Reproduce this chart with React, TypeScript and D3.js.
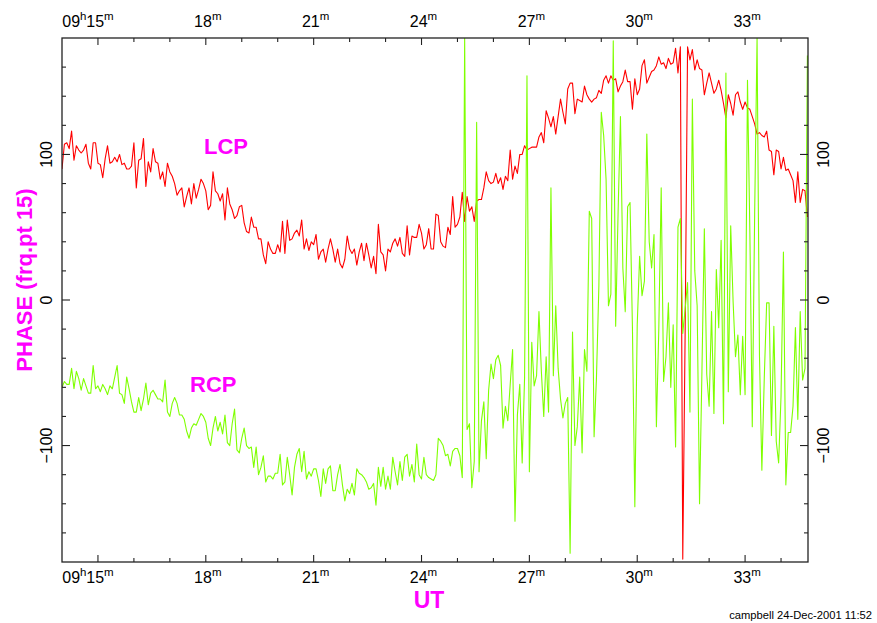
import * as d3 from "d3";
import { useEffect } from "react";

const W = 877;
const H = 623;
const margin = { top: 38, right: 69, bottom: 64, left: 62 };

// time axis: minutes past 09h, one sample every 4 s starting 09h14m00s
const startMin = 14;
const endMin = 34.75;
const sampleSec = 4;
const majorMinutes = [15, 18, 21, 24, 27, 30, 33];
const minorMinutes = [16, 17, 19, 20, 22, 23, 25, 26, 28, 29, 31, 32, 34];
const yMajor = [-100, 0, 100];
const yMinor = [-160, -140, -120, -80, -60, -40, -20, 20, 40, 60, 80, 120, 140, 160];

// LCP phase (deg)
const lcp = [
	90, 107, 108, 104, 116, 96, 106, 103, 101, 103,
	107, 94, 90, 108, 108, 94, 93, 84, 97, 106,
	94, 95, 98, 95, 100, 93, 94, 90, 90, 92,
	108, 77, 96, 97, 111, 78, 95, 88, 104, 95,
	94, 83, 88, 78, 94, 88, 85, 80, 72, 75,
	77, 64, 71, 77, 66, 80, 70, 76, 83, 80,
	75, 62, 65, 88, 75, 73, 68, 73, 55, 77,
	66, 62, 56, 58, 64, 65, 53, 47, 46, 57,
	50, 50, 42, 42, 31, 25, 40, 35, 32,
	32, 38, 33, 54, 32, 55, 41, 42, 46, 48,
	44, 55, 35, 42, 34, 40, 38, 45, 28, 33,
	35, 26, 35, 42, 35, 26, 35, 25, 22, 28,
	44, 35, 32, 35, 24, 33, 39, 27, 39, 31,
	22, 30, 18, 52, 33, 31, 20, 35, 33, 39,
	42, 37, 43, 32, 30, 51, 31, 44, 43, 43,
	52, 46, 35, 38, 49, 35, 35, 59, 58, 40,
	37,
	36, 50, 45, 71, 50, 52, 57, 74, 54,
	71, 61, 64, 54, 68, 69, 69, 77, 88, 82,
	80, 81, 87, 80, 84, 76, 85, 82, 103, 83,
	92, 87, 100, 100, 106, 103, 104, 105, 105, 105,
	112, 115, 108, 130, 125, 119, 126, 114, 126, 138,
	129, 121, 145, 149, 149, 128, 138, 137, 136, 147,
	141, 138, 136, 138, 139, 144, 142, 151, 154, 149,
	154, 151, 152, 143, 147, 150, 158, 150, 150, 131,
	152, 141, 145, 161, 165, 149, 153, 157, 158,
	161, 167, 162, 163, 159, 166, 162, 163, 173, 156,
	174, -178, -21,
	174, 165, 172, 158, 165, 159,
	158, 141, 149, 156, 149, 142, 145, 151, 144, 135,
	125, 141, 135, 127, 141, 143, 136, 131, 136,
	132, 131, 126, 121, 114, 115, 113, 112, 116,
	103, 102, 86, 103, 102, 90, 98, 89, 90, 86,
	82, 67, 88, 67, 76, 75, 57
];

// RCP phase (deg)
const rcp = [
	-60, -56, -58, -58, -47, -61, -49, -54, -62, -54,
	-59, -64, -64, -45, -61, -59, -63, -58, -61, -65,
	-59, -61, -53, -45, -64, -65, -71, -53, -61, -70,
	-77, -77, -67, -76, -68, -57, -72, -64, -62, -65,
	-68, -68, -70, -55, -77, -80, -71, -67, -71, -79,
	-79, -82, -90, -95, -88, -85, -86, -82, -78, -80,
	-84, -95, -100, -88, -80, -90, -84, -92, -79, -98,
	-100, -85, -75, -103, -105, -95, -88, -100, -102,
	-101, -115, -101, -120, -115, -107, -125, -121, -121, -123,
	-119, -119, -106, -127, -125, -108, -120, -134, -115, -106,
	-102, -118, -104, -123, -118, -121, -116, -116, -124, -135,
	-116, -126, -116, -114, -131, -131, -120, -113, -127, -138,
	-130, -133, -126, -134, -116, -119, -120, -122, -125, -130,
	-129, -126, -141, -115, -128, -115, -130, -121, -130, -108,
	-118, -127, -111, -124, -108, -106, -121, -113, -125, -99,
	-120, -123, -108, -120, -122, -123, -124, -120, -95, -97,
	-100, -107,
	-106, -114, -104, -102, -102, -107, -122, 180, -89, -85,
	-129, -111, 122, -118, -83, -70, -109, -62, -44, -54,
	-41, -38, -45, -88, -73, -83, -58, -34, -152, -79,
	-58, -112, -53, 154, -118, -29, -59, -52, -8, -49,
	-80, -39, -77, 77, -52, -4, -47, -68, -81, -71,
	-67, -174, -22, -100, -87, -53, -105, -34, -49, 61,
	56, -94, -53, 10, 129, 113, 83, -4, 4, 178,
	-18, 59, 126, 22, -8, 64, 67,
	-19, -142, -17, 30, 3, 13, 114, 40, 22, 45,
	-87, -20, 77, -56, -39, -2, -60, -17, -101, 50, 56,
	-23, -6, 12, -77, 138, 20, -4, -140, -49, 49,
	-51, -73, -8, -78, 21, -19, 41, -85, 156, -63,
	51, -1, -39, -24, -65, -25, -65, 151, 46, -87, 60,
	180, -38, -117, -54, -2, -2, -93, -18, -97, -112,
	-66, 33, -127, -91, -91, -73, -19, -82, -8, -55,
	-47, 168
];

const font = "'Liberation Sans', Arial, Helvetica, sans-serif";
const axisColor = "#222";

const App = () => {
	useEffect(() => {
		document.body.style.margin = "0";
	}, []);

	const x0 = margin.left;
	const x1 = W - margin.right;
	const y0 = margin.top;
	const y1 = H - margin.bottom + 3;

	const x = d3.scaleLinear().domain([startMin, endMin]).range([x0, x1]);
	const y = d3.scaleLinear().domain([-180, 180]).range([y1, y0]);

	const line = d3
		.line<number>()
		.x((d, i) => x(startMin + (i * sampleSec) / 60))
		.y(d => y(d));

	const minuteLabel = (m: number, yy: number) => {
		const tx = x(m);
		return (
			<g key={`${m}-${yy}`}>
				{m === 15 && (
					<text x={tx - 11.5} y={yy} textAnchor="end" fontSize={16}>
						09<tspan dy={-7} fontSize={11.5}>h</tspan>
					</text>
				)}
				<text x={tx + 2} y={yy} textAnchor="middle" fontSize={16}>
					{m}
					<tspan dy={-7} fontSize={11.5}>m</tspan>
				</text>
			</g>
		);
	};

	const fmtY = (v: number) => (v < 0 ? "\u2212" + Math.abs(v) : String(v));

	return (
		<svg
			width={W}
			height={H}
			style={{ position: "absolute", left: 0, top: 0, background: "#fff" }}
			fontFamily={font}
		>
			<defs>
				<clipPath id="plot">
					<rect x={x0} y={y0} width={x1 - x0} height={y1 - y0} />
				</clipPath>
			</defs>

			<g clipPath="url(#plot)" fill="none" strokeWidth={1.1} strokeLinejoin="round">
				<path d={line(lcp) || ""} stroke="#ff0000" />
				<path d={line(rcp) || ""} stroke="#7fff00" />
			</g>

			{/* frame */}
			<rect x={x0} y={y0} width={x1 - x0} height={y1 - y0} fill="none" stroke={axisColor} strokeWidth={1.3} />

			{/* ticks on all four sides */}
			<g stroke={axisColor} strokeWidth={1.1}>
				{majorMinutes.map(m => (
					<g key={`M${m}`}>
						<line x1={x(m)} x2={x(m)} y1={y1} y2={y1 - 7} />
						<line x1={x(m)} x2={x(m)} y1={y0} y2={y0 + 7} />
					</g>
				))}
				{minorMinutes.map(m => (
					<g key={`m${m}`}>
						<line x1={x(m)} x2={x(m)} y1={y1} y2={y1 - 4} />
						<line x1={x(m)} x2={x(m)} y1={y0} y2={y0 + 4} />
					</g>
				))}
				{yMajor.map(v => (
					<g key={`Y${v}`}>
						<line x1={x0} x2={x0 + 8} y1={y(v)} y2={y(v)} />
						<line x1={x1} x2={x1 - 8} y1={y(v)} y2={y(v)} />
					</g>
				))}
				{yMinor.map(v => (
					<g key={`y${v}`}>
						<line x1={x0} x2={x0 + 4} y1={y(v)} y2={y(v)} />
						<line x1={x1} x2={x1 - 4} y1={y(v)} y2={y(v)} />
					</g>
				))}
			</g>

			{/* x tick labels */}
			<g fill="#000">
				{majorMinutes.map(m => minuteLabel(m, 27))}
				{majorMinutes.map(m => minuteLabel(m, 583))}
			</g>

			{/* y tick labels, rotated */}
			<g fill="#000" fontSize={16} textAnchor="middle">
				{yMajor.map(v => (
					<text key={`L${v}`} transform={`translate(52, ${y(v)}) rotate(-90)`}>
						{fmtY(v)}
					</text>
				))}
				{yMajor.map(v => (
					<text key={`R${v}`} transform={`translate(829, ${y(v)}) rotate(-90)`}>
						{fmtY(v)}
					</text>
				))}
			</g>

			{/* titles */}
			<text
				transform="translate(32, 280) rotate(-90)"
				textAnchor="middle"
				fontSize={22}
				fontWeight="bold"
				fill="#ff00ff"
			>
				PHASE (frq.pt 15)
			</text>
			<text x={429} y={608} textAnchor="middle" fontSize={23} fontWeight="bold" fill="#ff00ff">
				UT
			</text>
			<text x={204} y={154} fontSize={22} fontWeight="bold" fill="#ff00ff">
				LCP
			</text>
			<text x={190} y={392} fontSize={22} fontWeight="bold" fill="#ff00ff">
				RCP
			</text>

			<text x={872} y={619} textAnchor="end" fontSize={11.2} fill="#000">
				campbell 24-Dec-2001 11:52
			</text>
		</svg>
	);
};

export default App;
